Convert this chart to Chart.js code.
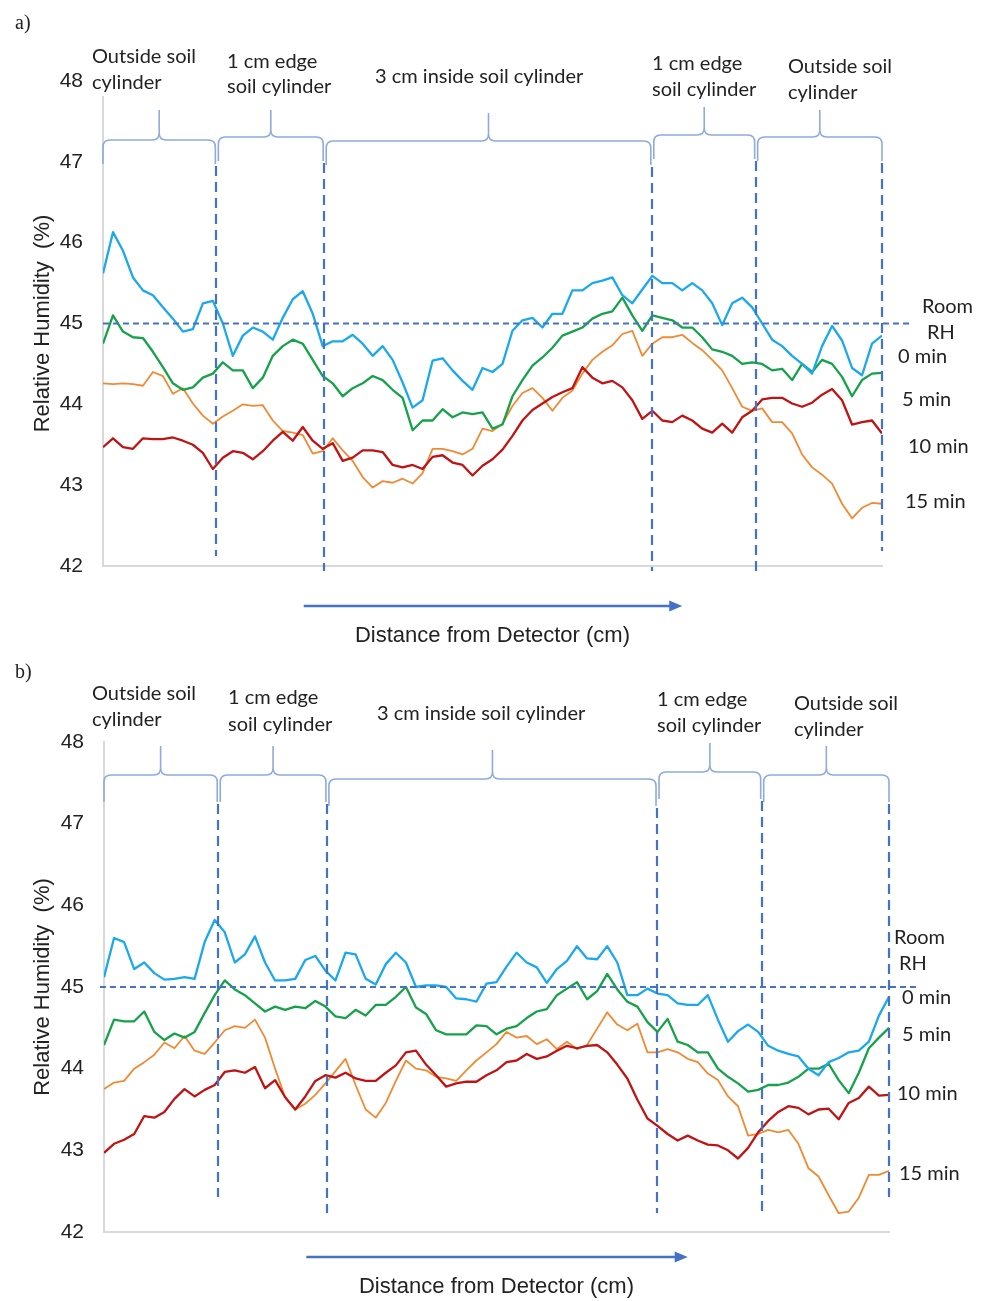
<!DOCTYPE html>
<html>
<head>
<meta charset="utf-8">
<title>Relative humidity across the soil cylinder</title>
<script src="https://cdn.jsdelivr.net/npm/chart.js@4/dist/chart.umd.min.js"></script>
<style>
  html, body { margin: 0; padding: 0; background: #ffffff; }
  #wrap { position: relative; width: 989px; height: 1301px; }
  canvas { position: absolute; left: 0; display: block; }
</style>
</head>
<body>
<div id="wrap">
  <canvas id="panelA" width="989" height="650" style="top:0px"></canvas>
  <canvas id="panelB" width="989" height="651" style="top:650px"></canvas>
</div>
<script>
// ---- readings: relative humidity (%) along the scan, one value per sample step ----
const seriesNames = ['0 min', '5 min', '10 min', '15 min'];
const rhTicks = [42, 43, 44, 45, 46, 47, 48];
const roomRH = 45;
const roomLabel = ['Room', 'RH'];

// zones along the scan (sample-step units) and their names
const zoneBounds = [0, 11.35, 22.15, 54.95, 65.35, 78];
const zoneNames = [
  ['Outside soil', 'cylinder'],
  ['1 cm edge', 'soil cylinder'],
  ['3 cm inside soil cylinder'],
  ['1 cm edge', 'soil cylinder'],
  ['Outside soil', 'cylinder']
];
const arrowSpan = [20.1, 58.0];

// panel a
const rhA0 = [45.62,46.13,45.9,45.57,45.41,45.35,45.2,45.06,44.9,44.93,
  45.25,45.28,45.0,44.6,44.85,44.95,44.9,44.8,45.07,45.3,
  45.4,45.12,44.72,44.78,44.78,44.86,44.75,44.6,44.72,44.55,
  44.27,43.96,44.05,44.54,44.57,44.42,44.29,44.18,44.45,44.4,
  44.5,44.91,45.04,45.07,44.95,45.12,45.12,45.41,45.41,45.5,
  45.53,45.57,45.35,45.25,45.42,45.59,45.5,45.5,45.41,45.5,
  45.41,45.25,44.98,45.25,45.32,45.2,45.0,44.8,44.72,44.6,
  44.5,44.38,44.72,44.97,44.79,44.45,44.36,44.75,44.85];
const rhA5 = [44.75,45.1,44.9,44.83,44.82,44.65,44.46,44.26,44.18,44.21,
  44.33,44.38,44.52,44.42,44.42,44.2,44.33,44.6,44.72,44.8,
  44.75,44.55,44.35,44.26,44.1,44.2,44.26,44.35,44.3,44.18,
  44.08,43.68,43.8,43.8,43.94,43.84,43.9,43.88,43.9,43.7,
  43.75,44.1,44.3,44.48,44.58,44.7,44.85,44.9,44.95,45.06,
  45.12,45.15,45.32,45.1,44.91,45.1,45.07,45.04,44.95,44.95,
  44.83,44.68,44.65,44.6,44.5,44.52,44.5,44.42,44.44,44.3,
  44.5,44.4,44.55,44.5,44.34,44.1,44.3,44.38,44.39];
const rhA10 = [43.47,43.58,43.47,43.45,43.58,43.57,43.57,43.59,43.55,43.5,
  43.4,43.2,43.34,43.42,43.4,43.32,43.42,43.55,43.66,43.55,
  43.72,43.55,43.45,43.52,43.3,43.34,43.43,43.43,43.41,43.25,
  43.22,43.25,43.2,43.35,43.37,43.28,43.25,43.12,43.24,43.32,
  43.44,43.61,43.8,43.93,44.01,44.09,44.15,44.2,44.46,44.33,
  44.26,44.29,44.21,44.05,43.82,43.92,43.8,43.78,43.86,43.8,
  43.7,43.65,43.76,43.65,43.84,43.92,44.06,44.08,44.08,44.01,
  43.97,44.02,44.12,44.19,44.05,43.75,43.78,43.8,43.64];
const rhA15 = [44.26,44.25,44.26,44.25,44.23,44.4,44.35,44.13,44.2,44.01,
  43.86,43.76,43.85,43.92,44.0,43.98,43.99,43.8,43.67,43.65,
  43.62,43.39,43.42,43.58,43.43,43.3,43.1,42.97,43.05,43.03,
  43.08,43.02,43.15,43.45,43.45,43.42,43.38,43.45,43.7,43.67,
  43.76,43.98,44.14,44.2,44.08,43.92,44.08,44.17,44.38,44.55,
  44.65,44.73,44.87,44.91,44.6,44.75,44.83,44.83,44.86,44.76,
  44.67,44.55,44.42,44.2,43.97,43.92,43.95,43.78,43.78,43.64,
  43.38,43.22,43.13,43.02,42.77,42.59,42.72,42.78,42.77];

// panel b
const rhB0 = [45.12,45.6,45.55,45.22,45.3,45.17,45.09,45.1,45.12,45.1,
  45.55,45.82,45.67,45.3,45.4,45.62,45.3,45.08,45.08,45.1,
  45.33,45.38,45.2,45.08,45.42,45.4,45.1,45.03,45.28,45.42,
  45.3,45.0,45.02,45.02,45.0,44.86,44.85,44.82,45.04,45.06,
  45.25,45.42,45.3,45.24,45.05,45.22,45.32,45.5,45.35,45.34,
  45.5,45.3,44.9,44.9,44.98,44.92,44.9,44.8,44.78,44.78,
  44.9,44.6,44.33,44.46,44.54,44.45,44.28,44.22,44.18,44.15,
  44.0,43.92,44.08,44.13,44.2,44.22,44.33,44.65,44.88];
const rhB5 = [44.29,44.6,44.58,44.58,44.7,44.45,44.35,44.43,44.38,44.45,
  44.68,44.9,45.08,44.97,44.9,44.8,44.7,44.76,44.72,44.76,
  44.74,44.83,44.76,44.64,44.62,44.72,44.65,44.78,44.78,44.88,
  45.0,44.75,44.67,44.47,44.42,44.42,44.42,44.53,44.52,44.42,
  44.49,44.52,44.62,44.7,44.73,44.9,44.98,45.06,44.85,44.95,
  45.16,44.97,44.82,44.76,44.57,44.45,44.61,44.33,44.29,44.2,
  44.2,44.0,43.9,43.82,43.72,43.74,43.8,43.8,43.83,43.9,
  44.0,44.0,44.06,43.86,43.7,43.95,44.25,44.38,44.5];
const rhB10 = [42.97,43.08,43.13,43.2,43.42,43.4,43.47,43.63,43.75,43.66,
  43.74,43.8,43.96,43.98,43.95,44.02,43.76,43.86,43.65,43.5,
  43.66,43.85,43.92,43.89,43.95,43.88,43.85,43.85,43.95,44.04,
  44.2,44.22,44.05,43.92,43.78,43.82,43.84,43.84,43.92,43.98,
  44.08,44.1,44.18,44.12,44.15,44.22,44.28,44.25,44.28,44.29,
  44.2,44.05,43.88,43.62,43.39,43.3,43.2,43.12,43.18,43.12,
  43.07,43.06,43.0,42.9,43.03,43.22,43.36,43.47,43.54,43.52,
  43.44,43.5,43.51,43.38,43.58,43.64,43.78,43.67,43.68];
const rhB15 = [43.75,43.83,43.85,44.0,44.08,44.17,44.32,44.25,44.4,44.22,
  44.18,44.32,44.47,44.52,44.5,44.6,44.38,44.0,43.65,43.5,
  43.57,43.68,43.82,43.97,44.12,43.8,43.5,43.4,43.58,43.85,
  44.1,44.0,43.98,43.9,43.88,43.85,43.98,44.1,44.2,44.3,
  44.45,44.38,44.4,44.3,44.36,44.24,44.33,44.24,44.29,44.49,
  44.69,44.54,44.47,44.55,44.2,44.2,44.24,44.2,44.12,44.08,
  43.94,43.86,43.66,43.54,43.18,43.2,43.25,43.22,43.25,43.08,
  42.78,42.68,42.45,42.23,42.25,42.42,42.7,42.7,42.75];

// ---- styling ----
const seriesColors = ['#1BA9EC', '#16A24A', '#C01414', '#F08A33'];
const seriesWidths = [2.3, 2.3, 2.3, 1.8];
const inkColor = '#222222';
const guideColor = '#4472C4';
const braceColor = '#8FAADC';
const axisColor = '#D9D9D9';
const labelFont = '20px Lato, "Open Sans", sans-serif';
const axisFont = 'Liberation Sans, Arial, sans-serif';

// per-panel placement of the non-data furniture (pixels)
const layoutA = {
  tag: 'a)', tagAt: [15, 29],
  pad: { left: 0, right: 107, top: 81, bottom: 1 },
  yWidth: 103, xHeight: 83,
  braceLevel: [59, 56, 60, 54, 56], braceTip: [29, 29, 32, 26, 29], hookDrop: 24,
  boundaryEnd: [-10, 5, 5, 5, -15],
  arrowDrop: 40, roomSpan: [0, 81.1],
  zoneLabelAt: [[92, [63, 89]], [227, [68, 93]], [375, [83]], [652, [70, 96]], [788, [73, 99]]],
  roomLabelAt: [[922, 313], [927, 339]],
  seriesLabelAt: [[898, 363], [902, 406], [908, 453], [905, 508]]
};
const layoutB = {
  tag: 'b)', tagAt: [15, 28],
  pad: { left: 0, right: 100, top: 92, bottom: 1 },
  yWidth: 104, xHeight: 68,
  braceLevel: [33, 33, 37, 30, 33], braceTip: [4, 4, 8, 1, 4], hookDrop: 27,
  boundaryEnd: [-35, -19, -19, -19, -35],
  arrowDrop: 25, roomSpan: [-0.4, 80.7],
  zoneLabelAt: [[92, [50, 76]], [228, [54, 81]], [377, [70]], [657, [56, 82]], [794, [60, 86]]],
  roomLabelAt: [[894, 294], [899, 320]],
  seriesLabelAt: [[902, 354], [902, 391], [897, 450], [899, 530]]
};

function drawBrace(ctx, x0, x1, yH, yTip, yEnd) {
  const xm = (x0 + x1) / 2, r = 7;
  ctx.beginPath();
  ctx.moveTo(x0, yEnd);
  ctx.lineTo(x0, yH + r);
  ctx.quadraticCurveTo(x0, yH, x0 + r, yH);
  ctx.lineTo(xm - r, yH);
  ctx.quadraticCurveTo(xm, yH, xm, yH - r);
  ctx.lineTo(xm, yTip);
  ctx.moveTo(xm, yH - r);
  ctx.quadraticCurveTo(xm, yH, xm + r, yH);
  ctx.lineTo(x1 - r, yH);
  ctx.quadraticCurveTo(x1, yH, x1, yH + r);
  ctx.lineTo(x1, yEnd);
  ctx.stroke();
}

function makeZonePlugin(L) {
  return {
    id: 'zoneFurniture',
    afterDatasetsDraw(chart) {
      const { ctx, chartArea: ca } = chart;
      const xs = chart.scales.x;
      ctx.save();

      // brackets over each zone
      ctx.strokeStyle = braceColor;
      ctx.lineWidth = 1.6;
      ctx.setLineDash([]);
      for (let i = 0; i < zoneNames.length; i++) {
        let x0 = xs.getPixelForValue(zoneBounds[i]);
        let x1 = xs.getPixelForValue(zoneBounds[i + 1]);
        if (i > 0) x0 += 2;
        if (i < zoneNames.length - 1) x1 -= 1;
        drawBrace(ctx, x0, x1, ca.top + L.braceLevel[i], ca.top + L.braceTip[i],
          ca.top + L.braceLevel[i] + L.hookDrop);
      }

      // dashed zone boundaries
      ctx.strokeStyle = guideColor;
      ctx.lineWidth = 2.2;
      ctx.setLineDash([10, 6]);
      for (let i = 1; i < zoneBounds.length; i++) {
        const px = Math.round(xs.getPixelForValue(zoneBounds[i]));
        ctx.beginPath();
        ctx.moveTo(px, ca.top + L.braceLevel[i - 1] + L.hookDrop + 2);
        ctx.lineTo(px, ca.bottom + L.boundaryEnd[i - 1]);
        ctx.stroke();
      }

      // direction arrow under the axis
      const ay = ca.bottom + L.arrowDrop;
      const ax0 = xs.getPixelForValue(arrowSpan[0]);
      const ax1 = xs.getPixelForValue(arrowSpan[1]);
      ctx.setLineDash([]);
      ctx.strokeStyle = guideColor;
      ctx.fillStyle = guideColor;
      ctx.lineWidth = 2.5;
      ctx.beginPath();
      ctx.moveTo(ax0, ay);
      ctx.lineTo(ax1 - 11, ay);
      ctx.stroke();
      ctx.beginPath();
      ctx.moveTo(ax1, ay);
      ctx.lineTo(ax1 - 13, ay - 5.5);
      ctx.lineTo(ax1 - 13, ay + 5.5);
      ctx.closePath();
      ctx.fill();

      // zone names
      ctx.font = labelFont;
      ctx.textAlign = 'left';
      ctx.textBaseline = 'alphabetic';
      zoneNames.forEach((lines, i) => {
        const [lx, bases] = L.zoneLabelAt[i];
        lines.forEach((t, k) => {
          const w = ctx.measureText(t).width;
          ctx.fillStyle = '#ffffff';
          ctx.fillRect(lx - 2, bases[k] - 18, w + 4, 25);
        });
        ctx.fillStyle = inkColor;
        lines.forEach((t, k) => ctx.fillText(t, lx, bases[k]));
      });

      // room line and series names at the right
      ctx.fillStyle = inkColor;
      roomLabel.forEach((t, k) => ctx.fillText(t, L.roomLabelAt[k][0], L.roomLabelAt[k][1]));
      seriesNames.forEach((t, k) => ctx.fillText(t, L.seriesLabelAt[k][0], L.seriesLabelAt[k][1]));

      // panel tag
      ctx.font = '20px "Liberation Serif", "Times New Roman", serif';
      ctx.fillText(L.tag, L.tagAt[0], L.tagAt[1]);
      ctx.restore();
    }
  };
}

function buildPanel(canvasId, series, L) {
  const datasets = [{
    label: 'Room RH',
    data: [{ x: L.roomSpan[0], y: roomRH }, { x: L.roomSpan[1], y: roomRH }],
    borderColor: guideColor,
    borderWidth: 2,
    borderDash: [6, 4],
    pointRadius: 0,
    clip: false
  }];
  series.forEach((vals, k) => {
    datasets.push({
      label: seriesNames[k],
      data: vals.map((v, i) => ({ x: i, y: v })),
      borderColor: seriesColors[k],
      borderWidth: seriesWidths[k],
      borderJoinStyle: 'round',
      pointRadius: 0,
      tension: 0
    });
  });

  return new Chart(document.getElementById(canvasId), {
    type: 'line',
    data: { datasets },
    plugins: [makeZonePlugin(L)],
    options: {
      responsive: false,
      animation: false,
      events: [],
      layout: { padding: L.pad },
      plugins: { legend: { display: false }, tooltip: { enabled: false } },
      scales: {
        x: {
          type: 'linear',
          min: 0,
          max: series[0].length - 1,
          ticks: { display: false },
          grid: { display: false, drawTicks: false },
          border: { display: true, color: axisColor, width: 2 },
          title: {
            display: true,
            text: 'Distance from Detector (cm)',
            color: inkColor,
            font: { family: axisFont, size: 22 },
            padding: { top: 0, bottom: 0 }
          },
          afterFit(scale) { scale.height = L.xHeight; }
        },
        y: {
          min: rhTicks[0],
          max: rhTicks[rhTicks.length - 1],
          ticks: {
            stepSize: 1,
            padding: 20,
            color: inkColor,
            font: { family: axisFont, size: 21 }
          },
          grid: { display: false, drawTicks: false },
          border: { display: true, color: axisColor, width: 2 },
          title: {
            display: true,
            text: 'Relative Humidity  (%)',
            color: inkColor,
            font: { family: axisFont, size: 22 },
            padding: { top: 30, bottom: 0 }
          },
          afterFit(scale) { scale.width = L.yWidth; }
        }
      }
    }
  });
}

buildPanel('panelA', [rhA0, rhA5, rhA10, rhA15], layoutA);
buildPanel('panelB', [rhB0, rhB5, rhB10, rhB15], layoutB);
</script>
</body>
</html>
